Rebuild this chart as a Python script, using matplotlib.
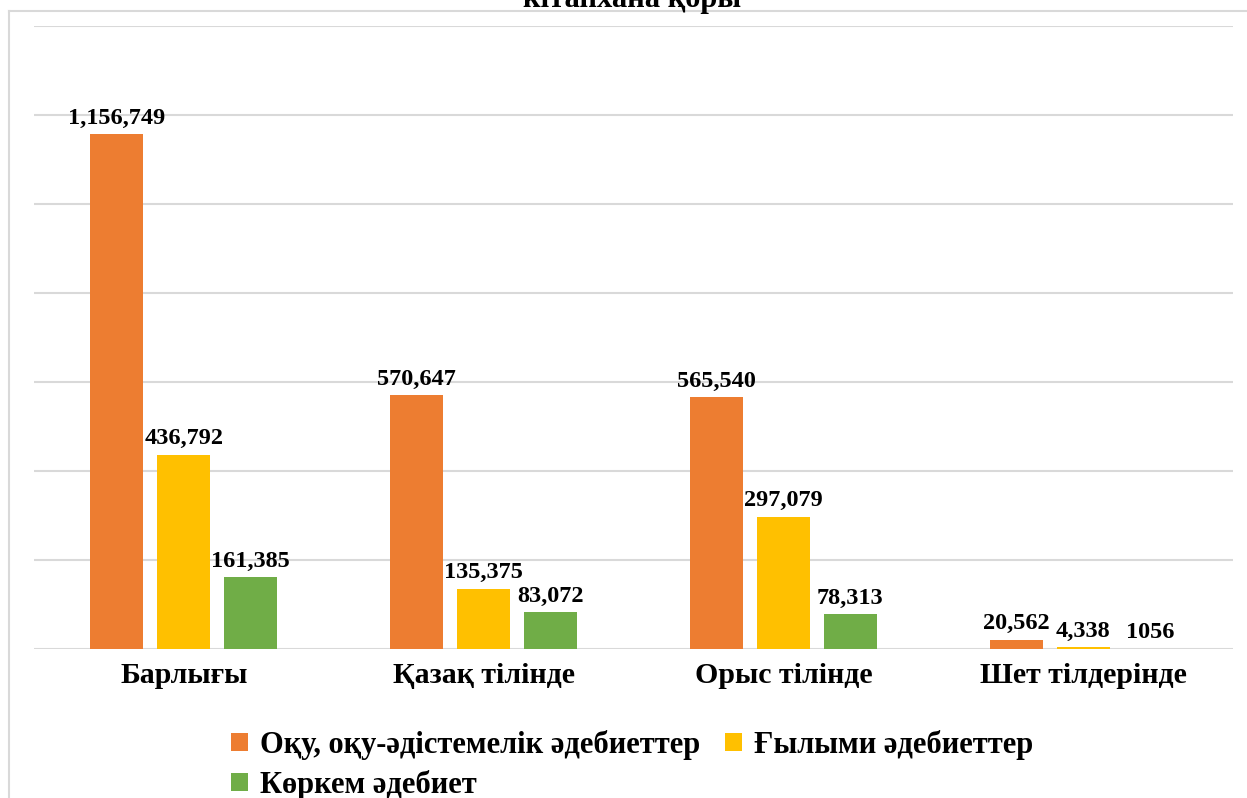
import matplotlib.pyplot as plt
from matplotlib.lines import Line2D
import numpy as np

categories = ['Барлығы', 'Қазақ тілінде', 'Орыс тілінде', 'Шет тілдерінде']
series_names = ['Оқу, оқу-әдістемелік әдебиеттер', 'Ғылыми әдебиеттер', 'Көркем әдебиет']
educational = [1156749, 570647, 565540, 20562]
scientific = [436792, 135375, 297079, 4338]
fiction = [161385, 83072, 78313, 1056]
educational_labels = ['1,156,749', '570,647', '565,540', '20,562']
scientific_labels = ['436,792', '135,375', '297,079', '4,338']
fiction_labels = ['161,385', '83,072', '78,313', '1056']
colors = ['#ED7D31', '#FFC000', '#70AD47']
title = 'кітапхана қоры'

plt.rcParams['font.family'] = ['Liberation Serif', 'DejaVu Serif']
plt.rcParams['font.weight'] = 'bold'

W, H = 1247, 798
fig = plt.figure(figsize=(W / 100, H / 100), dpi=100)
ax = fig.add_axes([34 / W, (H - 649) / H, (1233 - 34) / W, (649 - 26) / H])

x = np.arange(len(categories))
pitch = 0.2235
width = 0.177
all_values = [educational, scientific, fiction]
all_labels = [educational_labels, scientific_labels, fiction_labels]
bars = []
for i, (vals, labs) in enumerate(zip(all_values, all_labels)):
    b = ax.bar(x + (i - 1) * pitch, vals, width, color=colors[i], label=series_names[i], zorder=3)
    ax.bar_label(b, labels=labs, padding=4, fontsize=17.5, fontweight='bold', color='#000000')
    bars.append(b)

ax.set_xlim(-0.5, len(categories) - 0.5)
ax.set_ylim(0, 1400000)
ax.set_yticks(np.arange(0, 1400001, 200000))
ax.yaxis.grid(True, color='#D9D9D9', linewidth=1.5, zorder=0)
ax.tick_params(axis='y', left=False, labelleft=False)
ax.tick_params(axis='x', bottom=False, pad=6, labelsize=21.5)
ax.set_xticks(x)
ax.set_xticklabels(categories, fontweight='bold')
for s in ax.spines.values():
    s.set_visible(False)

# legend in row order: reorder for column filling
handles = [bars[0], bars[2], bars[1]]
labels = [series_names[0], series_names[2], series_names[1]]
fig.legend(handles, labels, ncol=2, loc='upper left',
           bbox_to_anchor=(231 / W, 1 - 730 / H), frameon=False,
           fontsize=22, handlelength=0.55, handleheight=0.55, handletextpad=0.4,
           columnspacing=0.8, labelspacing=0.32, borderpad=0, borderaxespad=0)

# chart frame (cropped)
fig.add_artist(Line2D([8.5 / W, 8.5 / W], [0, 1 - 10.5 / H], color='#D9D9D9', lw=1.5))
fig.add_artist(Line2D([8.5 / W, 1], [1 - 10.5 / H, 1 - 10.5 / H], color='#D9D9D9', lw=1.5))

fig.text(632 / W, 1 - 7 / H, title, ha='center', va='baseline', fontsize=22, fontweight='bold')

fig.savefig('out.png', dpi=100)
